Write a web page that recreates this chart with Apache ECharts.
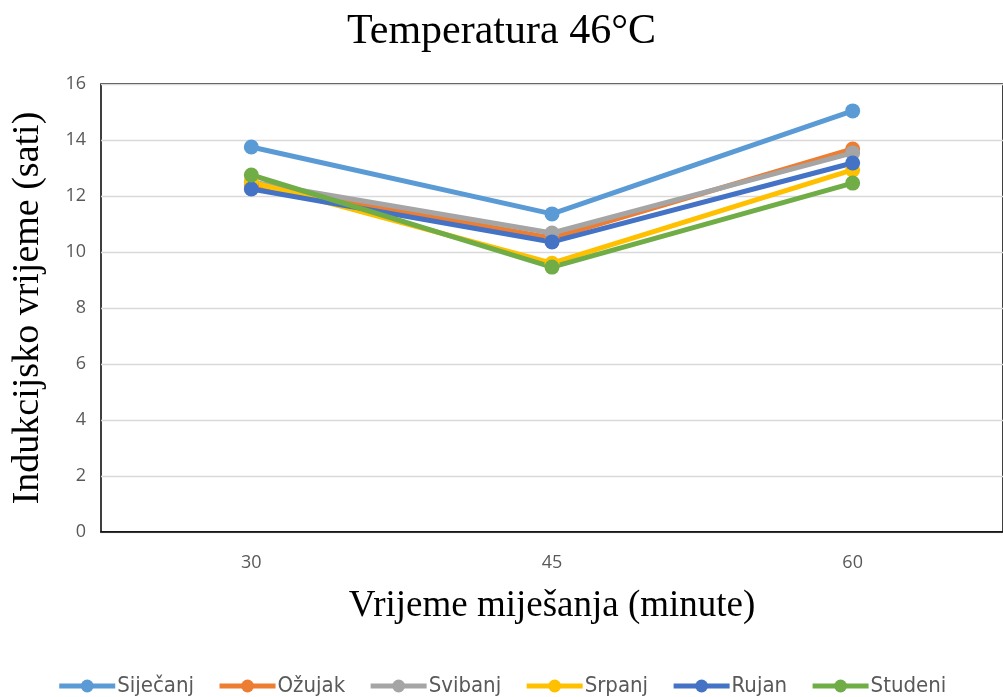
<!DOCTYPE html>
<html><head><meta charset="utf-8">
<script src="https://cdn.jsdelivr.net/npm/echarts@6/dist/echarts.min.js"></script>
<style>html,body{margin:0;padding:0;background:#fff}#c{width:1003px;height:697px}</style>
</head><body><div id="c"></div>
<script>
const categories = ['30', '45', '60'];
const seriesNames = ['Siječanj', 'Ožujak', 'Svibanj', 'Srpanj', 'Rujan', 'Studeni'];
const sijecanj = [13.75, 11.36, 15.04];
const ozujak = [12.4, 10.5, 13.68];
const svibanj = [12.5, 10.68, 13.54];
const srpanj = [12.5, 9.6, 12.93];
const rujan = [12.25, 10.36, 13.18];
const studeni = [12.75, 9.46, 12.46];
const yTicks = [0, 2, 4, 6, 8, 10, 12, 14, 16];
const colors = ['#5b9bd5', '#ed7d31', '#a5a5a5', '#ffc000', '#4472c4', '#70ad47'];
const values = [sijecanj, ozujak, svibanj, srpanj, rujan, studeni];

const chart = echarts.init(document.getElementById('c'));
const labelFont = "'Liberation Sans Narrow','DejaVu Sans Condensed','Open Sans',sans-serif";
chart.setOption({
  animation: false,
  color: colors,
  title: {
    text: 'Temperatura 46°C', left: 'center', top: 6,
    textStyle: { fontFamily: "'Liberation Serif',serif", fontSize: 42, fontWeight: 'normal', color: '#000' }
  },
  grid: { left: 101, right: -4, top: 84, bottom: 165, show: true, borderColor: '#000', borderWidth: 1.5 },
  legend: {
    top: 670, left: 'center', itemWidth: 56, itemHeight: 16, itemGap: 23,
    textStyle: { fontFamily: labelFont, fontSize: 22, color: '#595959', padding: [0, 0, 0, -3] },
    data: seriesNames.map(n => ({ name: n, lineStyle: { width: 5 } }))
  },
  xAxis: {
    type: 'category', data: categories, boundaryGap: true,
    name: 'Vrijeme miješanja (minute)', nameLocation: 'middle', nameGap: 56,
    nameTextStyle: { fontFamily: "'Liberation Serif',serif", fontSize: 37, color: '#000' },
    axisLine: { lineStyle: { color: '#000', width: 1.5 } },
    axisTick: { show: false },
    axisLabel: { fontFamily: "'Open Sans',sans-serif", fontSize: 18, color: '#595959', margin: 22 }
  },
  yAxis: {
    type: 'value', min: yTicks[0], max: yTicks[yTicks.length - 1], interval: 2,
    name: 'Indukcijsko vrijeme (sati)', nameLocation: 'middle', nameGap: 54,
    nameTextStyle: { fontFamily: "'Liberation Serif',serif", fontSize: 38, color: '#000' },
    axisLine: { show: false }, axisTick: { show: false },
    axisLabel: { fontFamily: "'Open Sans',sans-serif", fontSize: 18, color: '#595959', margin: 15 },
    splitLine: { lineStyle: { color: '#d9d9d9', width: 1.3 } }
  },
  series: seriesNames.map((n, i) => ({
    name: n, type: 'line', data: values[i],
    symbol: 'circle', symbolSize: 15,
    lineStyle: { width: 5, color: colors[i] },
    itemStyle: { color: colors[i] }
  }))
});
</script></body></html>
